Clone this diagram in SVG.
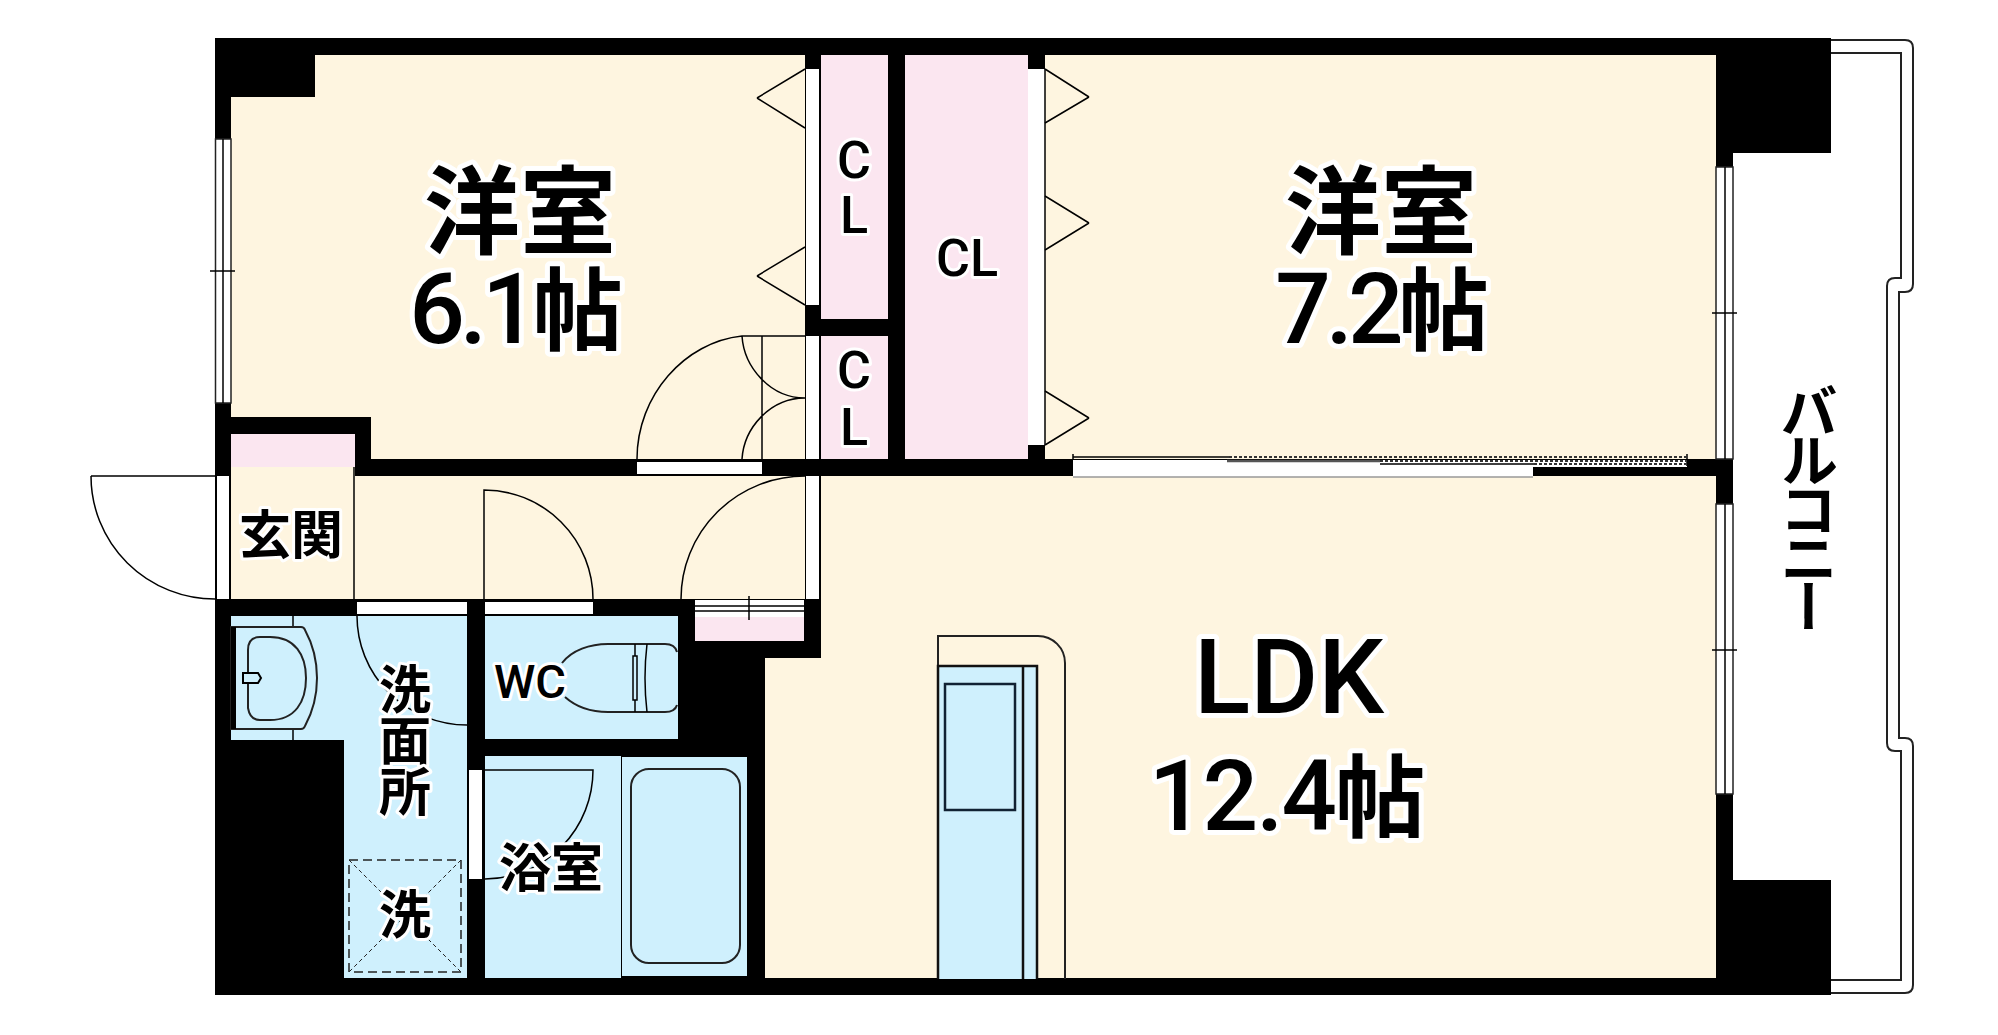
<svg xmlns="http://www.w3.org/2000/svg" width="1998" height="1035" viewBox="0 0 1998 1035">
<style>
.c{fill:#fef5e0}.p{fill:#fbe6f0}.b{fill:#cff0fd}.w{fill:#fff}.k{fill:#000}
.l{fill:none;stroke:#000;stroke-width:1.5}
.g{fill:none;stroke:#222;stroke-width:2}
.win{fill:#fff;stroke:#222;stroke-width:1.5}
text{font-family:Roboto,"Noto Sans CJK JP",sans-serif;font-weight:500;fill:#000;stroke:#fff;stroke-linejoin:round;paint-order:stroke;text-anchor:middle}
.big{font-size:98px;letter-spacing:-5px;stroke-width:10px}
.j{font-size:96px;font-weight:700;stroke-width:10px}
.t{font-size:90px;font-weight:700;letter-spacing:0}
.mid{font-size:52px;font-weight:700;stroke-width:6px}
.cl{font-size:52px;stroke-width:6px}
</style>
<rect width="1998" height="1035" fill="#fff"/>
<path class="k" d="M215 38H1831V153H1733V880H1831V995H215Z"/>
<path class="c" d="M315 55H805V459H371V417H231V97H315Z"/>
<rect class="p" x="821" y="55" width="67" height="264"/>
<rect class="p" x="821" y="336" width="67" height="123"/>
<rect class="p" x="905" y="55" width="123" height="404"/>
<rect class="c" x="1045" y="55" width="671" height="404"/>
<rect class="p" x="231" y="434" width="124" height="33"/>
<path class="c" d="M231 467H355V476H805V599H231Z"/>
<path class="c" d="M821 476H1716V978H765V658H821Z"/>
<path class="b" d="M231 616H467V978H344V740H231Z"/>
<rect class="b" x="485" y="616" width="193" height="123"/>
<rect class="b" x="485" y="756" width="136" height="222"/>
<rect class="b" x="622" y="757" width="125" height="219"/>
<rect class="p" x="695" y="617" width="109" height="24"/>
<rect class="w" x="695" y="600" width="109" height="17"/>
<path class="l" d="M695 606H804M695 611H804M749 596V620"/>
<rect class="w" x="806" y="69" width="13" height="236"/>
<rect class="w" x="806" y="336" width="13" height="123"/>
<rect class="w" x="806" y="476" width="13" height="123"/>
<rect class="w" x="1028" y="69" width="17" height="376"/>
<path class="l" d="M1045 69V445"/>
<rect class="w" x="637" y="462" width="125" height="12"/>
<rect class="w" x="217" y="476" width="12" height="123"/>
<rect class="w" x="357" y="602" width="110" height="12"/>
<rect class="w" x="485" y="602" width="108" height="12"/>
<rect class="w" x="469" y="770" width="13" height="109"/>
<rect class="win" x="215.500" y="139" width="15.500" height="264"/>
<path class="l" d="M223 139V403M210 271H235"/>
<rect class="win" x="1716" y="167" width="17" height="292"/>
<rect class="win" x="1716" y="504" width="17" height="290"/>
<path class="l" d="M1725 167V459M1725 504V794M1712 313H1737M1712 650H1737"/>
<path class="w" d="M1073 460H1687V467H1533V477H1073Z"/>
<path d="M1073 477H1533" stroke="#999" stroke-width="1.500" fill="none"/>
<path class="l" d="M1073 457H1229M1073 454V460M1687 454V466M1380 464H1534"/>
<path d="M1227 461H1380" stroke="#555" stroke-width="2.500" fill="none"/>
<path d="M1229 457H1687M1380 461H1687M1534 464H1687" stroke="#333" stroke-width="2" stroke-dasharray="3 2" fill="none"/>
<path class="g" d="M1831 40H1905Q1913 40 1913 48V284Q1913 292 1905 292H1899V738H1905Q1913 738 1913 746V985Q1913 993 1905 993H1831"/>
<path class="g" d="M1831 53H1901V278H1895Q1887 278 1887 286V743Q1887 751 1895 751H1901V980H1831"/>
<g id="doors">
<path class="l" d="M757 98L805 69M757 98L805 128M757 276L805 247M757 276L805 305"/>
<path class="l" d="M1089 97L1045 69M1089 97L1045 123M1089 223L1045 196M1089 223L1045 250M1089 418L1045 391M1089 418L1045 445"/>
<path class="l" d="M637 459C637 395 685 342 742 336H805M762 336V459M742 336C744 367 770 398 805 398C770 398 744 428 742 459"/>
<path class="l" d="M91 476H215M91 476A124 123 0 0 0 215 599"/>
<path class="l" d="M354 467V599"/>
<path class="l" d="M681 599A124 123 0 0 1 805 476"/>
<path class="l" d="M484 599V490A109 109 0 0 1 593 599"/>
<path class="l" d="M357 616A110 109 0 0 0 467 725"/>
<path class="l" d="M485 770H593A108 109 0 0 1 485 879"/>
</g>
<g id="fixtures">
<path class="l" d="M293 616V627M293 729V740"/>
<path class="g" d="M231 627H301Q304 627 305 630Q317 652 317 678Q317 704 305 726Q304 729 301 729H231Z"/>
<rect class="k" x="231" y="627" width="5" height="102"/>
<path class="g" d="M248 650Q248 637 260 637H270C295 637 306 655 306 678C306 702 295 720 270 720H260Q250 720 248 708Z"/>
<path class="b" d="M243 673H258L261 678L258 683H243Z" stroke="#000" stroke-width="2"/>
<path class="g" d="M562 663C572 650 590 644 608 644H665Q675 644 677 652M565 697C575 706 590 712 608 712H665Q675 712 677 705"/>
<path class="l" d="M635 644V656M635 700V712M647 644Q643 678 647 712"/>
<rect class="l" x="633" y="656" width="4" height="44"/>
<rect x="349" y="860" width="112" height="112" fill="none" stroke="#222" stroke-width="1.500" stroke-dasharray="9 5"/>
<path d="M349 860L461 972M461 860L349 972" stroke="#222" stroke-width="1" stroke-dasharray="4 3" fill="none"/>
<rect class="g" x="631" y="769" width="109" height="194" rx="18"/>
<path class="g" d="M938 666V636H1038A27 27 0 0 1 1065 663V979"/>
<rect class="b" x="938" y="666" width="99" height="313"/>
<path d="M938 979V666H1037V979M1023 666V979" fill="none" stroke="#111" stroke-width="2.500"/>
<rect x="945" y="684" width="70" height="126" fill="none" stroke="#123" stroke-width="2.500"/>
</g>
<g id="labels">
<text class="j" x="520" y="246">洋室</text>
<text class="big" x="516" y="343">6.1<tspan class="t">帖</tspan></text>
<text class="j" x="1381" y="246">洋室</text>
<text class="big" x="1382" y="343">7.2<tspan class="t">帖</tspan></text>
<text class="big" x="1289" y="713" style="font-size:104px;letter-spacing:0">LDK</text>
<text class="big" x="1287" y="830" style="letter-spacing:-2px">12.4<tspan class="t">帖</tspan></text>
<text class="cl" x="854" y="178">C</text>
<text class="cl" x="854" y="233">L</text>
<text class="cl" x="854" y="388">C</text>
<text class="cl" x="854" y="445">L</text>
<text class="cl" x="967" y="276">CL</text>
<text class="mid" x="291" y="554">玄関</text>
<text class="mid" x="530" y="698" style="font-size:47px;font-weight:500">WC</text>
<text class="mid" x="405" y="709">洗</text>
<text class="mid" x="405" y="760">面</text>
<text class="mid" x="405" y="811">所</text>
<text class="mid" x="405" y="934">洗</text>
<text class="mid" x="551" y="887">浴室</text>
<text x="1804" y="382" style="font-size:58px;font-weight:700;letter-spacing:-9px;stroke:none;writing-mode:vertical-rl;text-orientation:upright;text-anchor:start">バルコニー</text>
</g>
</svg>
